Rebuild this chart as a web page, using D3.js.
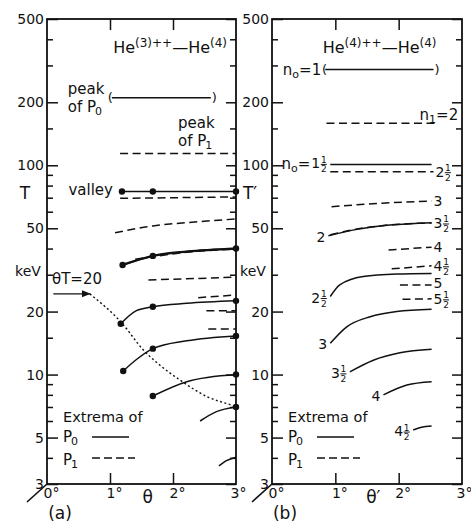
<!DOCTYPE html>
<html>
<head>
<meta charset="utf-8">
<script src="https://cdn.jsdelivr.net/npm/d3@7"></script>
<style>
  body { margin: 0; background: #fff; }
  svg { display: block; }
  text { font-family: "DejaVu Sans", sans-serif; fill: #111; }
</style>
</head>
<body>
<svg width="471" height="525"></svg>
<script>
// y axis ticks (log, keV)
const yMajor = [3, 5, 10, 20, 50, 100, 200, 500];
const yMinor = [4, 6, 7, 8, 9, 15, 30, 40, 60, 70, 80, 90, 150, 300, 400];
const xTickVals = [0, 1, 2, 3];

// panel (a): He(3)++ - He(4), [theta deg, T keV]
const aPeakP0 = [[1.03, 210], [2.6, 210]];
const aSolid = [
  [[1.19, 75], [1.68, 75], [3.0, 75]],
  [[1.2, 33.4], [1.68, 36.9], [2.22, 38.7], [3.0, 40]],
  [[1.17, 17.5], [1.42, 20.2], [1.68, 21.1], [2.22, 21.9], [3.0, 22.5]],
  [[1.21, 10.4], [1.42, 11.8], [1.68, 13.3], [2.22, 14.5], [3.0, 15.3]],
  [[1.68, 7.9], [2.22, 9.25], [3.0, 10.0]],
  [[2.43, 6.0], [2.69, 6.65], [3.0, 7.0]],
  [[2.73, 3.66], [2.85, 3.88], [3.0, 4.03]]
];
const aDashed = [
  [[1.16, 114], [3.0, 114]],
  [[1.16, 69.5], [3.0, 70.6]],
  [[1.08, 47.6], [1.68, 51.3], [2.43, 53.8], [3.0, 55.4]],
  [[1.4, 35.6], [1.68, 36.6], [2.22, 38.4], [3.0, 39.7]],
  [[1.61, 28.3], [3.0, 29.2]],
  [[2.4, 23.3], [3.0, 24.0]],
  [[2.53, 20.2], [3.0, 20.2]],
  [[2.56, 16.5], [3.0, 16.5]]
];
const aDots = [
  [1.19, 75], [1.68, 75], [3.0, 75],
  [1.2, 33.4], [1.68, 36.9], [3.0, 40],
  [1.17, 17.5], [1.68, 21.1], [3.0, 22.5],
  [1.21, 10.4], [1.68, 13.3], [3.0, 15.3],
  [1.68, 7.9], [3.0, 10.0], [3.0, 7.0]
];
const aThetaT20 = [[0.68, 24.3], [1.19, 17.6], [1.53, 13.1], [1.79, 11.1], [2.11, 9.42], [2.54, 7.84], [2.96, 7.08], [3.0, 7.0]];
const aArrow = [[0.1, 24.3], [0.68, 24.3]];

// panel (b): He(4)++ - He(4), [theta' deg, T' keV]
const bSolid = [
  [[0.84, 287], [2.55, 287]],
  [[0.92, 101], [2.52, 101]],
  [[0.89, 46.1], [1.34, 49.4], [1.86, 51.8], [2.52, 53.2]],
  [[0.92, 23.6], [1.07, 26.8], [1.44, 29.4], [1.97, 30.2], [2.52, 30.4]],
  [[0.92, 14.1], [1.18, 16.9], [1.55, 18.9], [1.97, 20.0], [2.52, 20.5]],
  [[1.23, 10.3], [1.6, 11.7], [2.02, 12.7], [2.52, 13.2]],
  [[1.76, 8.0], [2.13, 8.92], [2.52, 9.25]],
  [[2.23, 5.43], [2.36, 5.6], [2.52, 5.68]]
];
const bSolidLabels = [null, null, ["2", false], ["2", true], ["3", false], ["3", true], ["4", false], ["4", true]];
const bDashed = [
  [[0.86, 158.7], [2.6, 158.7]],
  [[0.92, 93.2], [2.55, 93.2]],
  [[0.94, 63.4], [1.71, 65.8], [2.52, 67.5]],
  [[0.92, 46.6], [1.34, 49.6], [1.86, 51.9], [2.52, 53.0]],
  [[1.84, 39.4], [2.52, 40.6]],
  [[1.89, 32.0], [2.52, 33.1]],
  [[2.02, 26.8], [2.52, 26.8]],
  [[2.06, 22.9], [2.52, 23.0]]
];
const bDashedLabels = [null, ["2", true], ["3", false], ["3", true], ["4", false], ["4", true], ["5", false], ["5", true]];

const svg = d3.select("svg");
const ink = "#111";

const y = d3.scaleLog().domain([3, 500]).range([484, 19]);
const xA = d3.scaleLinear().domain([0, 3]).range([47, 236]);
const xB = d3.scaleLinear().domain([0, 3]).range([272, 462]);

svg.append("defs").append("marker")
  .attr("id", "arrow").attr("viewBox", "0 0 10 10")
  .attr("refX", 9).attr("refY", 5)
  .attr("markerWidth", 7).attr("markerHeight", 7)
  .attr("orient", "auto")
  .append("path").attr("d", "M0,1 L10,5 L0,9 Z").attr("fill", ink);

function styleAxis(g) {
  g.select(".domain").remove();
  g.selectAll("line").attr("stroke", ink).attr("stroke-width", 1.5);
  g.attr("font-size", 14).attr("font-family", "DejaVu Sans, sans-serif");
  g.selectAll("text").attr("fill", ink);
}

function frame(x, thetaName, tName, tag) {
  const [x0, x1] = x.range();
  const [yb, yt] = y.range();
  const g = svg.append("g");

  g.append("g").attr("transform", `translate(${x0},0)`)
    .call(d3.axisLeft(y).tickValues(yMajor).tickSize(-11).tickPadding(3).tickFormat(d3.format("d")))
    .call(styleAxis);
  g.append("g").attr("transform", `translate(${x0},0)`)
    .call(d3.axisLeft(y).tickValues(yMinor).tickSize(-6).tickFormat(""))
    .call(styleAxis);
  g.append("g").attr("transform", `translate(${x1},0)`)
    .call(d3.axisRight(y).tickValues(yMajor).tickSize(-10).tickFormat(""))
    .call(styleAxis);
  g.append("g").attr("transform", `translate(${x1},0)`)
    .call(d3.axisRight(y).tickValues(yMinor).tickSize(-6).tickFormat(""))
    .call(styleAxis);
  g.append("g").attr("transform", `translate(0,${yt})`)
    .call(d3.axisTop(x).tickValues([1, 2]).tickSize(-11).tickFormat(""))
    .call(styleAxis);
  g.append("g").attr("transform", `translate(0,${yb})`)
    .call(d3.axisBottom(x).tickValues([1, 2]).tickSize(-11).tickFormat(""))
    .call(styleAxis);
  const bot = g.append("g").attr("transform", `translate(0,${yb})`)
    .call(d3.axisBottom(x).tickValues(xTickVals).tickSize(0).tickPadding(4).tickFormat(d => d + "°"))
    .call(styleAxis);
  bot.selectAll("text").attr("dx", d => d === 3 ? 2 : 4);

  g.append("rect")
    .attr("x", x0).attr("y", yt).attr("width", x1 - x0).attr("height", yb - yt)
    .attr("fill", "none").attr("stroke", ink).attr("stroke-width", 1.8);
  // axis break slash at the corner
  g.append("line")
    .attr("x1", x0).attr("y1", yb).attr("x2", x0 - 20).attr("y2", yb + 18)
    .attr("stroke", ink).attr("stroke-width", 1.6);

  g.append("text").attr("x", x(1.6)).attr("y", yb + 19).attr("text-anchor", "middle")
    .attr("font-size", 17).text(thetaName);
  g.append("text").attr("x", x0 - 22).attr("y", y(75) + 8).attr("text-anchor", "middle")
    .attr("font-size", 17).text(tName);
  g.append("text").attr("x", x0 - 19).attr("y", y(30) + 1).attr("text-anchor", "middle")
    .attr("font-size", 14).text("keV");
  g.append("text").attr("x", x0 + 13).attr("y", yb + 35).attr("text-anchor", "middle")
    .attr("font-size", 17).text(tag);

  // legend
  const lx = x0 + 16;
  g.append("text").attr("x", lx).attr("y", 422).attr("font-size", 14.5).text("Extrema of");
  const p0 = g.append("text").attr("x", lx).attr("y", 442).attr("font-size", 15);
  p0.append("tspan").text("P");
  p0.append("tspan").attr("font-size", 11).attr("dx", -1).attr("dy", 3).text("0");
  const p1 = g.append("text").attr("x", lx).attr("y", 465).attr("font-size", 15);
  p1.append("tspan").text("P");
  p1.append("tspan").attr("font-size", 11).attr("dx", -1).attr("dy", 3).text("1");
  g.append("line").attr("x1", lx + 29).attr("x2", lx + 66).attr("y1", 437).attr("y2", 437)
    .attr("stroke", ink).attr("stroke-width", 1.5);
  g.append("line").attr("x1", lx + 29).attr("x2", lx + 72).attr("y1", 458).attr("y2", 458)
    .attr("stroke", ink).attr("stroke-width", 1.5).attr("stroke-dasharray", "8,4");
}

function title(xs, iso) {
  const t = svg.append("text").attr("x", xs).attr("y", 53).attr("font-size", 16);
  t.append("tspan").text("He");
  t.append("tspan").attr("font-size", 12).attr("dy", -6).text(`(${iso})++`);
  t.append("tspan").attr("dy", 6).text("—");
  t.append("tspan").text("He");
  t.append("tspan").attr("font-size", 12).attr("dy", -6).text("(4)");
}

// mixed number like 2½ ; returns left x of the drawn label
function mixed(xp, yc, whole, half, anchor) {
  const fs = 14, wW = whole.length * 0.636 * fs, fW = half ? 7 : 0;
  const xs = anchor === "end" ? xp - wW - fW : xp;
  const base = yc + 5;
  svg.append("text").attr("x", xs).attr("y", base).attr("font-size", fs).text(whole);
  if (half) {
    const cx = xs + wW + 3.5;
    svg.append("text").attr("x", cx).attr("y", base - 5.5).attr("font-size", 9)
      .attr("text-anchor", "middle").text("1");
    svg.append("line").attr("x1", cx - 3).attr("x2", cx + 3).attr("y1", base - 4).attr("y2", base - 4)
      .attr("stroke", ink).attr("stroke-width", 1);
    svg.append("text").attr("x", cx).attr("y", base + 4).attr("font-size", 9)
      .attr("text-anchor", "middle").text("2");
  }
  return xs;
}

function curves(x, list, dash, width) {
  const line = d3.line().x(d => x(d[0])).y(d => y(d[1])).curve(d3.curveMonotoneX);
  svg.append("g").selectAll("path").data(list).join("path")
    .attr("d", line)
    .attr("fill", "none").attr("stroke", ink)
    .attr("stroke-width", width)
    .attr("stroke-dasharray", dash);
}

frame(xA, "θ", "T", "(a)");
frame(xB, "θ′", "T′", "(b)");
title(xA(1.05), 3);
title(xB(0.8), 4);

// ----- panel (a) marks -----
curves(xA, [aPeakP0], null, 1.5);
curves(xA, aSolid, null, 1.5);
curves(xA, [aSolid[1]], null, 2.3);
curves(xA, aDashed, "8,4.5", 1.5);
curves(xA, [aThetaT20], "2,2.5", 1.4);
svg.append("path")
  .attr("d", d3.line().x(d => xA(d[0])).y(d => y(d[1]))(aArrow))
  .attr("stroke", ink).attr("stroke-width", 1.3).attr("marker-end", "url(#arrow)");
svg.append("g").selectAll("circle").data(aDots).join("circle")
  .attr("cx", d => xA(d[0])).attr("cy", d => y(d[1])).attr("r", 3.2).attr("fill", ink);

// parentheses around peak of P0
svg.append("text").attr("x", xA(aPeakP0[0][0]) + 1).attr("y", y(210) + 4.5)
  .attr("text-anchor", "end").attr("font-size", 13).text("(");
svg.append("text").attr("x", xA(aPeakP0[1][0]) + 1).attr("y", y(210) + 4.5)
  .attr("font-size", 13).text(")");
svg.append("text").attr("x", xA(0.33)).attr("y", y(210) - 4).attr("font-size", 15).text("peak");
const ofP0 = svg.append("text").attr("x", xA(0.33)).attr("y", y(210) + 14).attr("font-size", 15);
ofP0.append("tspan").text("of P");
ofP0.append("tspan").attr("font-size", 11).attr("dx", -1).attr("dy", 3).text("0");
svg.append("text").attr("x", xA(2.08)).attr("y", y(114) - 25).attr("font-size", 15).text("peak");
const ofP1 = svg.append("text").attr("x", xA(2.08)).attr("y", y(114) - 7).attr("font-size", 15);
ofP1.append("tspan").text("of P");
ofP1.append("tspan").attr("font-size", 11).attr("dx", -1).attr("dy", 3).text("1");
svg.append("text").attr("x", xA(1.19) - 9).attr("y", y(75) + 4).attr("text-anchor", "end")
  .attr("font-size", 15).text("valley");
svg.append("text").attr("x", xA(0.08)).attr("y", y(24.3) - 10).attr("font-size", 15).text("θT=20");

// ----- panel (b) marks -----
curves(xB, bSolid, null, 1.5);
curves(xB, bDashed, "8,4.5", 1.5);

svg.append("text").attr("x", xB(bSolid[0][0][0]) + 2).attr("y", y(287) + 4.5)
  .attr("text-anchor", "end").attr("font-size", 13).text("(");
svg.append("text").attr("x", xB(bSolid[0][1][0]) + 1).attr("y", y(287) + 4.5)
  .attr("font-size", 13).text(")");
const n01 = svg.append("text").attr("x", xB(bSolid[0][0][0]) - 4).attr("y", y(287) + 6)
  .attr("text-anchor", "end").attr("font-size", 15);
n01.append("tspan").text("n");
n01.append("tspan").attr("font-size", 11).attr("dy", 3).text("o");
n01.append("tspan").attr("dy", -3).text("=1");

const n12 = svg.append("text").attr("x", xB(2.33)).attr("y", y(158.7) - 3).attr("font-size", 15);
n12.append("tspan").text("n");
n12.append("tspan").attr("font-size", 11).attr("dy", 3).text("1");
n12.append("tspan").attr("dy", -3).text("=2");

const left15 = mixed(xB(bSolid[1][0][0]) - 3, y(101) - 1, "1", true, "end");
const n015 = svg.append("text").attr("x", left15 - 1).attr("y", y(101) + 4.5)
  .attr("text-anchor", "end").attr("font-size", 15);
n015.append("tspan").text("n");
n015.append("tspan").attr("font-size", 11).attr("dy", 3).text("o");
n015.append("tspan").attr("dy", -3).text("=");

bSolid.forEach((c, i) => {
  const lab = bSolidLabels[i];
  if (!lab) return;
  mixed(xB(c[0][0]) - 3, y(c[0][1]) + 1, lab[0], lab[1], "end");
});
bDashed.forEach((c, i) => {
  const lab = bDashedLabels[i];
  if (!lab) return;
  const last = c[c.length - 1];
  mixed(xB(last[0]) + 2, y(last[1]) - (i === 6 ? 2 : 0), lab[0], lab[1], "start");
});
</script>
</body>
</html>
